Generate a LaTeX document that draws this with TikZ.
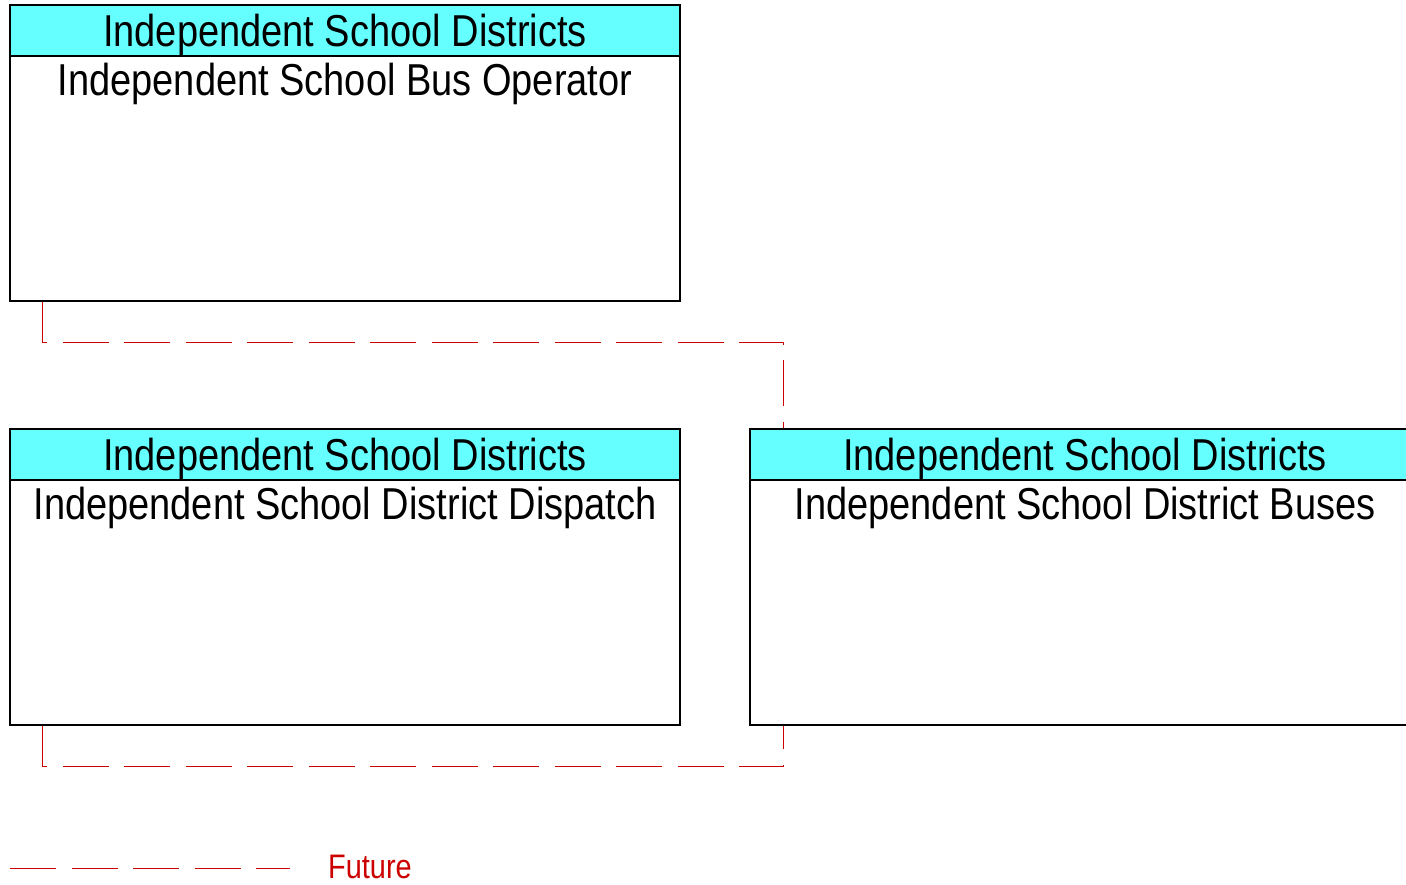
\documentclass[tikz,border=0pt]{standalone}
\usepackage{fontspec}
\setmainfont{Liberation Sans}[FakeStretch=0.85]
\usetikzlibrary{positioning}
\definecolor{headcyan}{RGB}{102,255,255}
\definecolor{futurered}{RGB}{204,0,0}

\begin{document}
\begin{tikzpicture}[x=1pt, y=-1pt,
    box/.style={rectangle, draw=black, line width=1.3pt, minimum width=670pt, minimum height=296pt, inner sep=0pt},
    head/.style={rectangle, draw=black, fill=headcyan, line width=1.3pt, minimum width=670pt, minimum height=51pt, inner sep=0pt, text height=32pt, text depth=0pt, font=\fontsize{44.7}{50}\selectfont},
    elemtitle/.style={inner sep=0pt, text height=32pt, text depth=0pt, font=\fontsize{44.7}{50}\selectfont},
    future/.style={draw=futurered, line width=1pt, dash pattern=on 46pt off 15.5pt}
]
\useasboundingbox (0,0) rectangle (1406,885);

% Bus operator
\node[box] (oper) at (345,153) {};
\node[head, anchor=north] (operhead) at (oper.north) {Independent School Districts};
\node[elemtitle, below=7pt of operhead] (opername) {Independent School Bus Operator};

% Dispatch
\node[box] (disp) at (345,577) {};
\node[head, anchor=north] (disphead) at (disp.north) {Independent School Districts};
\node[elemtitle, below=7pt of disphead] (dispname) {Independent School District Dispatch};

% Buses
\node[box] (buses) at (1085,577) {};
\node[head, anchor=north] (buseshead) at (buses.north) {Independent School Districts};
\node[elemtitle, below=7pt of buseshead] (busesname) {Independent School District Buses};

% Flows
\draw[future] ([xshift=33pt]oper.south west) -- ++(0,41) -| ([xshift=34pt]buses.north west);
\draw[future] ([xshift=33pt]disp.south west) -- ++(0,41) -| ([xshift=34pt]buses.south west);

% Legend
\coordinate (legstart) at (10,868);
\coordinate (legstop) at (290,868);
\draw[future] (legstart) -- (legstop);
\node[anchor=base west, inner sep=0pt, text depth=0pt, text=futurered, font=\fontsize{34}{40}\selectfont] (futurelabel) at (328,878) {Future};

\end{tikzpicture}
\end{document}
